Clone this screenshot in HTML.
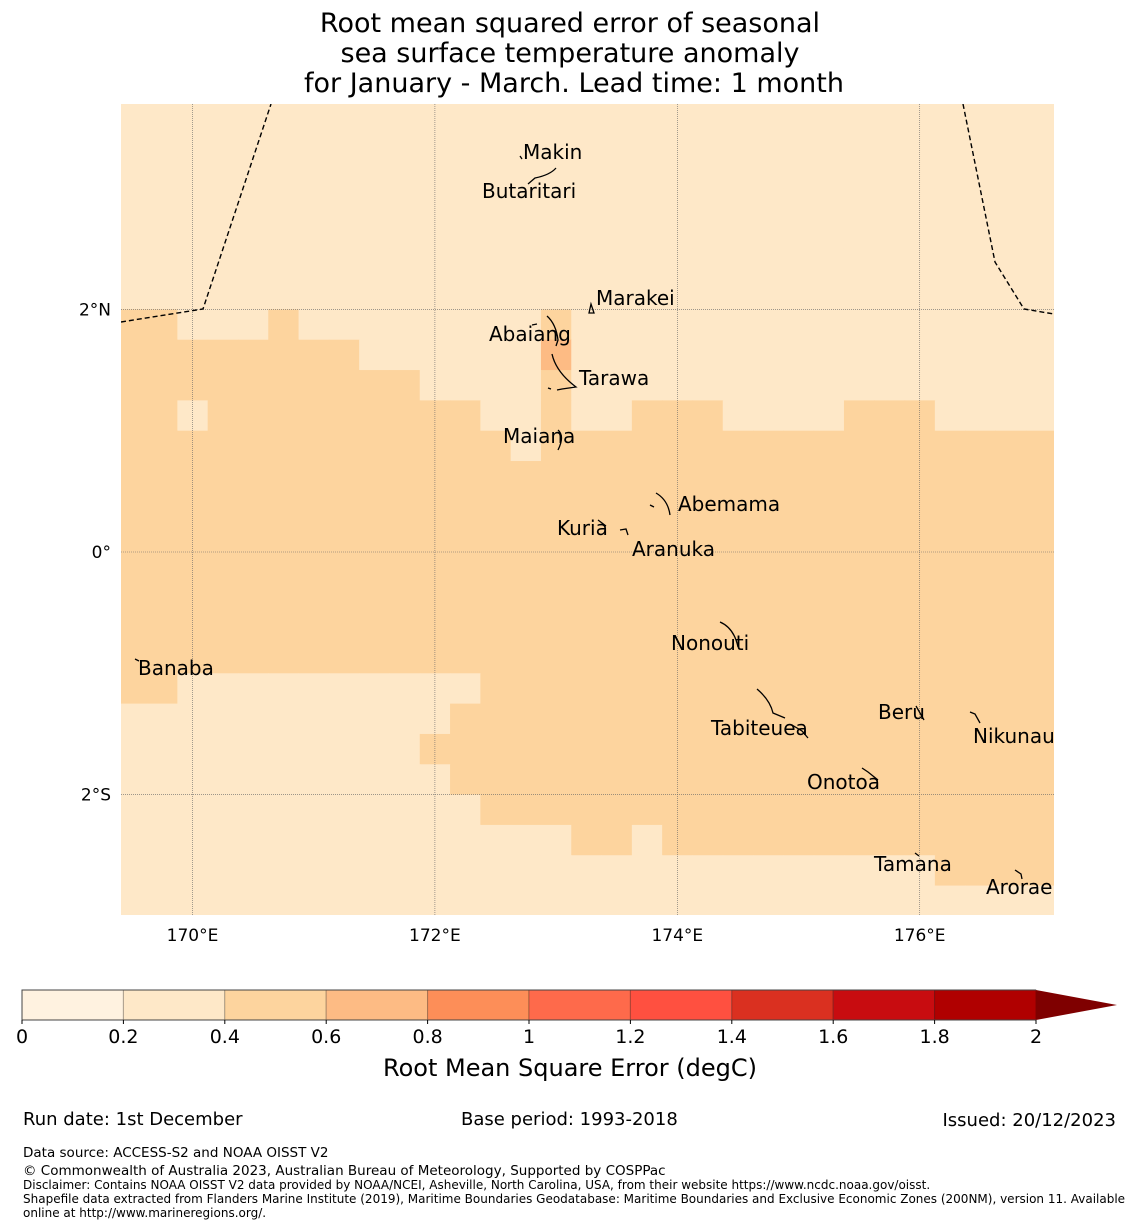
<!DOCTYPE html>
<html><head><meta charset="utf-8"><style>
body{margin:0;background:#fff;}
svg{display:block;font-family:"DejaVu Sans","Liberation Sans",sans-serif;}
</style></head><body>
<svg id="chart" width="1140" height="1230" viewBox="0 0 1140 1230">
<g font-size="27" text-anchor="middle" fill="#000">
<text x="570" y="32">Root mean squared error of seasonal</text>
<text x="570" y="62">sea surface temperature anomaly</text>
<text x="574" y="92">for January - March. Lead time: 1 month</text>
</g>
<defs><clipPath id="mapclip"><rect x="121" y="104" width="933" height="811"/></clipPath></defs>
<g id="cells" clip-path="url(#mapclip)"></g>
<g id="grid" clip-path="url(#mapclip)"></g>
<g clip-path="url(#mapclip)" fill="none" stroke="#000" stroke-width="1.4" stroke-dasharray="5,3">
<path d="M121,322 L203,309 L271,104"/>
<path d="M963,104 L995,262 L1024,309 L1054,314"/>
</g>
<g fill="none" stroke="#000" stroke-width="1.3">
<path d="M556,168 Q550,175 535,178 L528,184"/><path d="M520,156 l2,3"/>
<path d="M589,313 l2,-9 l3,9 z"/>
<path d="M547,316 Q556,324 558,340 L556,346"/><path d="M532,325 l5,-1"/>
<path d="M552,354 Q556,372 576,387 L562,389 L557,390"/><path d="M548,388 l3,1"/>
<path d="M558,430 Q565,436 558,450"/>
<path d="M656,493 Q668,500 670,515 M650,505 l4,2"/>
<path d="M598,520 l8,6 M620,530 l6,-1 l2,6"/>
<path d="M720,622 Q734,628 738,647"/>
<path d="M757,689 Q770,700 773,713 L785,718 M792,725 l10,6 l6,7"/>
<path d="M916,706 l8,14"/>
<path d="M970,712 l5,2 l5,9"/>
<path d="M862,768 l6,4 l10,8"/>
<path d="M915,853 l4,3"/>
<path d="M1015,870 l6,4 l1,5"/>
<path d="M135,659 l4,2"/>
</g>
<g font-size="20" fill="#000">
<text x="523" y="159">Makin</text>
<text x="482" y="198">Butaritari</text>
<text x="596" y="305">Marakei</text>
<text x="489" y="341">Abaiang</text>
<text x="579" y="385">Tarawa</text>
<text x="503" y="443">Maiana</text>
<text x="678" y="511">Abemama</text>
<text x="557" y="535">Kuria</text>
<text x="632" y="556">Aranuka</text>
<text x="671" y="650">Nonouti</text>
<text x="138" y="675">Banaba</text>
<text x="711" y="735">Tabiteuea</text>
<text x="878" y="719">Beru</text>
<text x="973" y="743">Nikunau</text>
<text x="807" y="789">Onotoa</text>
<text x="874" y="871">Tamana</text>
<text x="986" y="894">Arorae</text>
</g>
<g id="axes" font-size="17" fill="#000"></g>
<g id="cbar"></g>
<text x="570" y="1076" font-size="24" text-anchor="middle">Root Mean Square Error (degC)</text>
<g fill="#000">
<text x="23" y="1125" font-size="18">Run date: 1st December</text>
<text x="461" y="1125" font-size="18">Base period: 1993-2018</text>
<text x="1116" y="1126" font-size="18" text-anchor="end">Issued: 20/12/2023</text>
<text x="23" y="1157" font-size="13.5">Data source: ACCESS-S2 and NOAA OISST V2</text>
<text x="23" y="1175" font-size="13.5">© Commonwealth of Australia 2023, Australian Bureau of Meteorology, Supported by COSPPac</text>
<text x="23" y="1189" font-size="12">Disclaimer: Contains NOAA OISST V2 data provided by NOAA/NCEI, Asheville, North Carolina, USA, from their website https://www.ncdc.noaa.gov/oisst.</text>
<text x="23" y="1203" font-size="12">Shapefile data extracted from Flanders Marine Institute (2019), Maritime Boundaries Geodatabase: Maritime Boundaries and Exclusive Economic Zones (200NM), version 11. Available</text>
<text x="23" y="1217" font-size="12">online at http://www.marineregions.org/.</text>
</g>
</svg>
<script>
// RMSE values (degC x10) per 0.25° cell; rows from north (lat top 3.75) to south, columns from 169.375°E
const rmseRows = [
"3333333333333333333333333333333",
"3333333333333333333333333333333",
"3333333333333333333333333333333",
"3333333333333333333333333333333",
"3333333333333333333333333333333",
"3333333333333333333333333333333",
"3333333333333333333333333333333",
"5533353333333353333333333333333",
"5555555533333373333333333333333",
"5555555555333353333333333333333",
"5535555555553353355533335553333",
"5555555555555355555555555555555",
"5555555555555555555555555555555",
"5555555555555555555555555555555",
"5555555555555555555555555555555",
"5555555555555555555555555555555",
"5555555555555555555555555555555",
"5555555555555555555555555555555",
"5555555555555555555555555555555",
"5533333333335555555555555555555",
"3333333333355555555555555555555",
"3333333333555555555555555555555",
"3333333333355555555555555555555",
"3333333333335555555555555555555",
"3333333333333335535555555555555",
"3333333333333333333333333335555",
"3333333333333333333333333333333"
];
const topLat = 3.75, cellDeg = 0.25, westLon = 169.375;
const lonTicks = [170, 172, 174, 176];
const lonLabels = ["170°E", "172°E", "174°E", "176°E"];
const latTicks = [2, 0, -2];
const latLabels = ["2°N", "0°", "2°S"];
const levels = [0, 0.2, 0.4, 0.6, 0.8, 1, 1.2, 1.4, 1.6, 1.8, 2];
const levelColors = ["#fff2e0","#fee8c8","#fdd49e","#fdbb84","#fd8e58","#fe6a4b","#ff5040","#da3020","#c80c10","#b00000"];
const overColor = "#7f0000";

const NS = "http://www.w3.org/2000/svg";
function xOf(lon){ return 121 + (lon - 169.41) * 121.2; }
function yOf(lat){ return 552 - lat * 121.3; }
function colorOf(v){ for (let i = 0; i < levelColors.length; i++){ if (v < levels[i+1]) return levelColors[i]; } return overColor; }
function mk(tag, attrs, parent){ const e = document.createElementNS(NS, tag); for (const k in attrs) e.setAttribute(k, attrs[k]); parent.appendChild(e); return e; }

const cells = document.getElementById("cells");
rmseRows.forEach((row, r) => {
  const lat0 = topLat - r * cellDeg;
  for (let c = 0; c < row.length; c++){
    const v = parseInt(row[c], 10) / 10;
    const lon0 = westLon + c * cellDeg;
    const x0 = xOf(lon0), x1 = xOf(lon0 + cellDeg), y0 = yOf(lat0), y1 = yOf(lat0 - cellDeg);
    const el = mk("rect", {x: x0, y: y0, width: x1 - x0 + 0.6, height: y1 - y0 + 0.6, fill: colorOf(v)}, cells);
    
    
  }
});

const grid = document.getElementById("grid");
const axes = document.getElementById("axes");
lonTicks.forEach((lon, i) => {
  const l = mk("line", {x1: xOf(lon), x2: xOf(lon), y1: 104, y2: 915, stroke: "#666", "stroke-width": 0.6, "stroke-dasharray": "1,1"}, grid);
  
  
  const t = mk("text", {x: xOf(lon), y: 941, "text-anchor": "middle"}, axes);
  t.textContent = lonLabels[i];
  
  
});
latTicks.forEach((lat, i) => {
  const l = mk("line", {x1: 121, x2: 1054, y1: yOf(lat), y2: yOf(lat), stroke: "#666", "stroke-width": 0.6, "stroke-dasharray": "1,1"}, grid);
  
  
  const t = mk("text", {x: 111, y: yOf(lat) + 6, "text-anchor": "end"}, axes);
  t.textContent = latLabels[i];
  
  
});

const cbar = document.getElementById("cbar");
const cbX0 = 22, cbX1 = 1036, cbY = 990, cbH = 30;
function cbx(v){ return cbX0 + (v - levels[0]) / (levels[levels.length-1] - levels[0]) * (cbX1 - cbX0); }
levelColors.forEach((col, i) => {
  const r = mk("rect", {x: cbx(levels[i]), y: cbY, width: cbx(levels[i+1]) - cbx(levels[i]), height: cbH, fill: col, stroke: "rgba(0,0,0,0.25)", "stroke-width": 1}, cbar);
  
  
});
const tri = mk("polygon", {points: `${cbX1},${cbY} ${cbX1+81},${cbY+cbH/2} ${cbX1},${cbY+cbH}`, fill: overColor}, cbar);


const ol = mk("polyline", {points: `${cbX1},${cbY} ${cbX0},${cbY} ${cbX0},${cbY+cbH} ${cbX1},${cbY+cbH}`, fill: "none", stroke: "#444", "stroke-width": 1}, cbar);


levels.forEach(v => {
  const tk = mk("line", {x1: cbx(v), x2: cbx(v), y1: cbY + cbH, y2: cbY + cbH + 4, stroke: "#000"}, cbar);
  
  
  const t = mk("text", {x: cbx(v), y: 1043, "text-anchor": "middle", "font-size": 19}, cbar);
  t.textContent = String(v);
  
  
});
</script>
</body></html>
